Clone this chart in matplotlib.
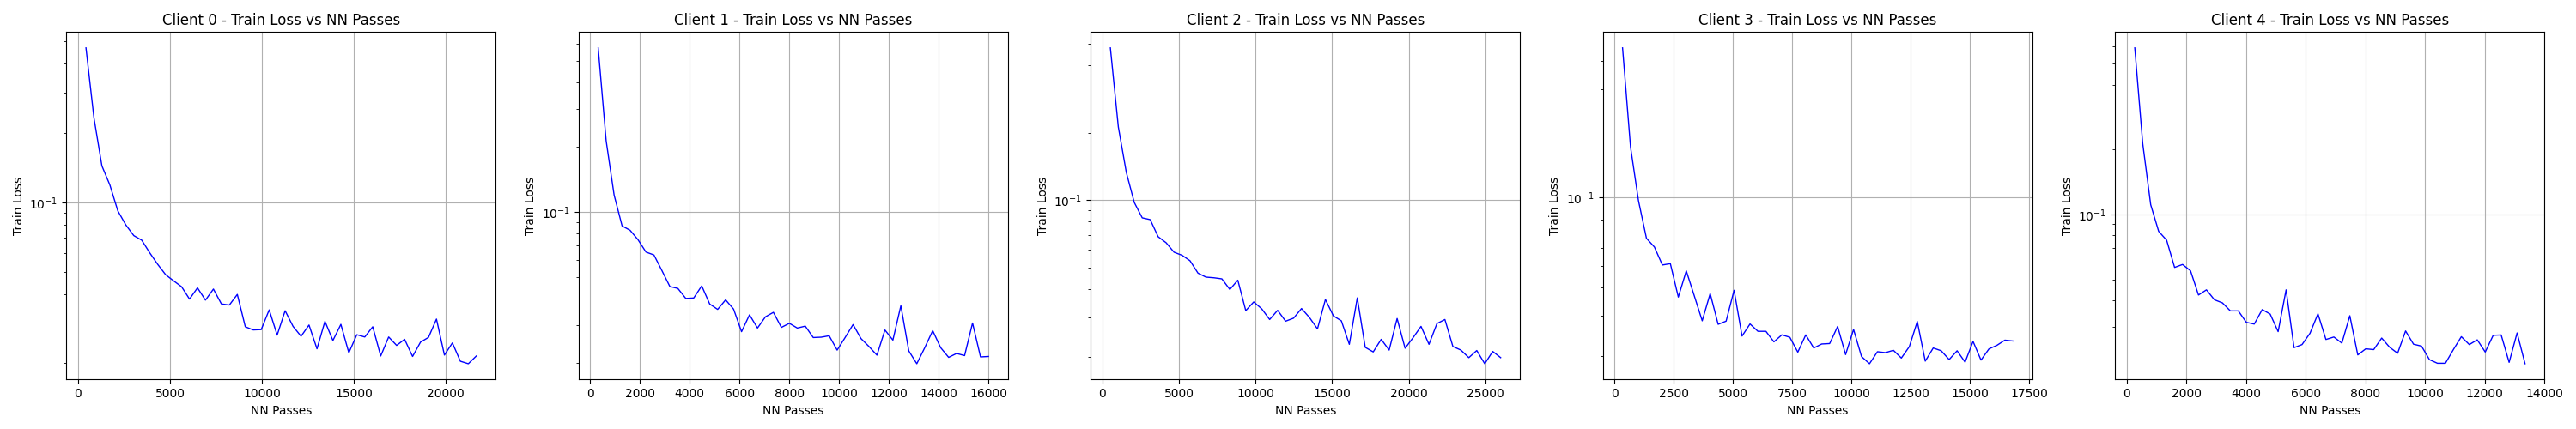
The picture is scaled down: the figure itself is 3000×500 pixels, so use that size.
import numpy as np
import matplotlib
matplotlib.use("Agg")
import matplotlib.pyplot as plt

# NN passes between two logged losses, per client (50 logged points each)
passes_per_round = [433, 320, 520, 336, 267]

loss_client0 = [0.469, 0.233, 0.144, 0.119, 0.0918, 0.0798, 0.0717, 0.0685, 0.0604, 0.0538,
                0.0485, 0.0456, 0.0430, 0.0380, 0.0425, 0.0376, 0.0420, 0.0362, 0.0358, 0.0398,
                0.0288, 0.0279, 0.0280, 0.0341, 0.0265, 0.0338, 0.0289, 0.0262, 0.0293, 0.0231,
                0.0304, 0.0251, 0.0295, 0.0222, 0.0266, 0.0260, 0.0288, 0.0215, 0.0260, 0.0239,
                0.0254, 0.0214, 0.0247, 0.0259, 0.0311, 0.0217, 0.0245, 0.0204, 0.0199, 0.0215]

loss_client1 = [0.576, 0.214, 0.120, 0.0864, 0.0825, 0.0746, 0.0654, 0.0634, 0.0537, 0.0453,
                0.0444, 0.0399, 0.0401, 0.0456, 0.0376, 0.0355, 0.0393, 0.0356, 0.0280, 0.0335,
                0.0291, 0.0328, 0.0344, 0.0293, 0.0306, 0.0291, 0.0297, 0.0263, 0.0264, 0.0268,
                0.0230, 0.0263, 0.0302, 0.0260, 0.0239, 0.0218, 0.0285, 0.0256, 0.0369, 0.0228,
                0.0199, 0.0236, 0.0283, 0.0236, 0.0213, 0.0222, 0.0217, 0.0307, 0.0214, 0.0215]

loss_client2 = [0.478, 0.212, 0.133, 0.0976, 0.0833, 0.0818, 0.0686, 0.0645, 0.0585, 0.0567,
                0.0536, 0.0472, 0.0453, 0.0450, 0.0445, 0.0399, 0.0439, 0.0321, 0.0351, 0.0327,
                0.0293, 0.0322, 0.0288, 0.0297, 0.0328, 0.0299, 0.0266, 0.0360, 0.0304, 0.0289,
                0.0227, 0.0366, 0.0220, 0.0210, 0.0239, 0.0214, 0.0296, 0.0218, 0.0243, 0.0273,
                0.0227, 0.0281, 0.0293, 0.0222, 0.0214, 0.0198, 0.0213, 0.0186, 0.0211, 0.0198]

loss_client3 = [0.457, 0.167, 0.0968, 0.0661, 0.0605, 0.0504, 0.0511, 0.0364, 0.0475, 0.0369,
                0.0286, 0.0377, 0.0276, 0.0285, 0.0390, 0.0245, 0.0277, 0.0257, 0.0257, 0.0231,
                0.0248, 0.0242, 0.0208, 0.0248, 0.0217, 0.0226, 0.0227, 0.0270, 0.0203, 0.0262,
                0.0199, 0.0185, 0.0209, 0.0207, 0.0212, 0.0196, 0.0220, 0.0284, 0.0190, 0.0217,
                0.0211, 0.0193, 0.0211, 0.0188, 0.0232, 0.0192, 0.0215, 0.0223, 0.0235, 0.0233]

loss_client4 = [0.593, 0.213, 0.111, 0.0835, 0.0760, 0.0568, 0.0586, 0.0548, 0.0423, 0.0447,
                0.0402, 0.0389, 0.0357, 0.0357, 0.0316, 0.0310, 0.0362, 0.0345, 0.0286, 0.0447,
                0.0241, 0.0249, 0.0281, 0.0346, 0.0263, 0.0270, 0.0253, 0.0339, 0.0223, 0.0238,
                0.0236, 0.0267, 0.0242, 0.0227, 0.0288, 0.0250, 0.0245, 0.0212, 0.0204, 0.0204,
                0.0236, 0.0271, 0.0249, 0.0262, 0.0230, 0.0275, 0.0276, 0.0206, 0.0282, 0.0203]

losses = [loss_client0, loss_client1, loss_client2, loss_client3, loss_client4]

fig, axes = plt.subplots(1, 5, figsize=(30, 5), dpi=100)
fig.subplots_adjust(left=0.0258, right=0.9878, bottom=0.1153, top=0.9253, wspace=0.193)

for i, ax in enumerate(axes):
    loss = losses[i]
    nn_passes = passes_per_round[i] * np.arange(1, len(loss) + 1)
    ax.plot(nn_passes, loss, color='b', linewidth=1)
    ax.set_yscale('log')
    ax.set_title(f'Client {i} - Train Loss vs NN Passes')
    ax.set_xlabel('NN Passes')
    ax.set_ylabel('Train Loss')
    ax.grid(True)

fig.savefig('out.png', dpi=100)
